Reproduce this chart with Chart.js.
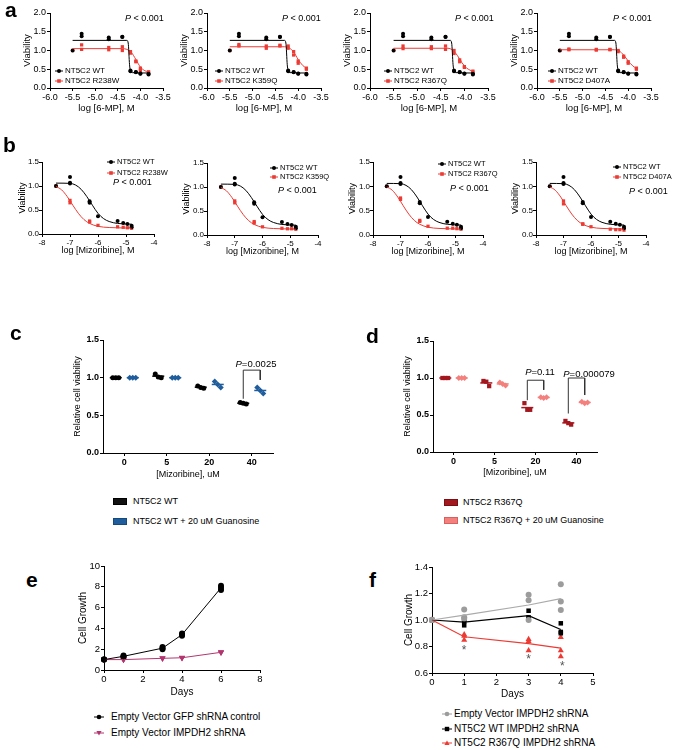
<!DOCTYPE html>
<html>
<head>
<meta charset="utf-8">
<title>NT5C2 viability panels</title>
<script src="https://cdn.jsdelivr.net/npm/chart.js@4.4.1/dist/chart.umd.min.js"></script>
<style>
  html, body { margin: 0; padding: 0; background: #fff; }
  body { position: relative; width: 676px; height: 750px; overflow: hidden; font-family: "Liberation Sans", Arial, sans-serif; }
  canvas, svg { position: absolute; }
  .t { position: absolute; line-height: 1; white-space: nowrap; color: #000; }
  .c { transform: translateX(-50%); }
</style>
</head>
<body>
<script>
// Панель a: log [6-MP], M (повторы в каждой точке)
const aDoses = [-5.5, -5.3, -4.7, -4.4, -4.22, -4.1, -4.0, -3.82];
const aWT    = [[1.0], [1.45, 1.38], [1.35, 1.30], [1.37, 1.36], [0.47, 0.45], [0.43, 0.42], [0.39, 0.38], [0.38, 0.36]];
const aR238W = [[1.0], [1.15, 1.03], [1.08, 1.02], [1.10, 1.00], [0.97, 0.93], [0.72, 0.70], [0.53, 0.47], [0.43, 0.42]];
const aK359Q = [[1.0], [1.16, 1.12], [1.12, 1.06], [1.14, 1.12], [1.12, 1.06], [0.97, 0.88], [0.72, 0.66], [0.53, 0.50]];
const aR367Q = [[1.0], [1.12, 1.05], [1.10, 1.05], [1.12, 1.03], [1.00, 0.92], [0.75, 0.70], [0.57, 0.55], [0.45, 0.42]];
const aD407A = [[1.0], [1.04, 1.02], [1.03, 1.01], [1.03, 1.02], [1.00, 0.97], [0.85, 0.82], [0.70, 0.66], [0.53, 0.50]];
// кривые аппроксимации
const aFitWT    = [[-5.5, 1.27], [-4.3, 1.27], [-4.27, 1.2], [-4.24, 0.62], [-4.22, 0.46], [-4.18, 0.41], [-3.82, 0.40]];
const aFitR238W = [[-5.5, 1.05], [-4.4, 1.05], [-4.3, 1.03], [-4.2, 0.95], [-4.1, 0.76], [-4.0, 0.56], [-3.9, 0.46], [-3.82, 0.43]];
const aFitK359Q = [[-5.5, 1.10], [-4.3, 1.10], [-4.2, 1.07], [-4.1, 0.96], [-4.0, 0.76], [-3.9, 0.60], [-3.82, 0.53]];
const aFitR367Q = [[-5.5, 1.06], [-4.35, 1.06], [-4.25, 1.01], [-4.15, 0.87], [-4.05, 0.67], [-3.95, 0.53], [-3.82, 0.44]];
const aFitD407A = [[-5.5, 1.02], [-4.3, 1.02], [-4.2, 0.99], [-4.1, 0.88], [-4.0, 0.72], [-3.9, 0.59], [-3.82, 0.52]];
const aMutNames = ['NT5C2 R238W', 'NT5C2 K359Q', 'NT5C2 R367Q', 'NT5C2 D407A'];

// Панель b: log [Mizoribine], M
const bDoses = [-7.5, -7.0, -6.3, -6.0, -5.3, -5.1, -4.95, -4.8];
const bWT    = [[1.0], [1.19, 1.07, 1.05], [0.68, 0.65], [0.37], [0.27], [0.23], [0.21], [0.17, 0.14]];
const bR238W = [[1.0], [0.70, 0.65], [0.27, 0.25], [0.18], [0.15], [0.14], [0.13], [0.12]];
const bK359Q = [[1.0], [0.71, 0.67], [0.28, 0.25], [0.17], [0.14], [0.13], [0.13], [0.12]];
const bR367Q = [[1.0], [0.76, 0.73], [0.30, 0.28], [0.18], [0.14], [0.14], [0.13], [0.12]];
const bD407A = [[1.0], [0.70, 0.64], [0.23, 0.22], [0.17], [0.12], [0.11], [0.11], [0.10]];
const bFitWT  = [[-7.5, 1.06], [-7.0, 1.055], [-6.8, 1.02], [-6.6, 0.93], [-6.4, 0.78], [-6.2, 0.60], [-6.0, 0.43], [-5.8, 0.32], [-5.6, 0.26], [-5.3, 0.22], [-4.8, 0.205]];
const bFitMut = [[-7.5, 0.99], [-7.3, 0.92], [-7.1, 0.78], [-6.9, 0.60], [-6.7, 0.43], [-6.5, 0.30], [-6.3, 0.22], [-6.0, 0.16], [-5.6, 0.135], [-5.0, 0.125], [-4.8, 0.12]];

// Панели c и d: [Mizoribine], uM
const cCats = ['0', '5', '20', '40'];
const cWT   = [[1.0, 1.0, 1.0], [1.05, 1.01, 1.0], [0.89, 0.87, 0.86], [0.67, 0.66, 0.65]];
const cGuan = [[1.0, 1.0, 1.0], [1.0, 1.0, 1.0], [0.95, 0.91, 0.87], [0.87, 0.83, 0.79]];
const dMut  = [[1.0, 1.0, 1.0], [0.96, 0.95, 0.89], [0.66, 0.57, 0.57], [0.42, 0.39, 0.37]];
const dGuan = [[1.0, 1.0, 1.0], [0.94, 0.92, 0.90], [0.74, 0.73, 0.74], [0.68, 0.66, 0.67]];
// скобки значимости: [категория, низ слева, верх, низ справа]
const cBrackets = [[3, 0.72, 1.10, 0.97]];
const dBrackets = [[2, 0.70, 0.97, 0.84], [3, 0.52, 1.00, 0.77]];

// Панель e: рост клеток по дням
const eDays = [0, 1, 3, 4, 6];
const eGFP  = [[1.0, 1.0, 1.0], [1.30, 1.40, 1.25], [2.20, 2.00, 2.10], [3.50, 3.30, 3.40], [8.10, 7.70, 7.90]];
const eIMP  = [[1.0, 1.0, 1.0], [1.00, 1.02, 0.98], [1.12, 1.10, 1.15], [1.15, 1.18, 1.20], [1.70, 1.72, 1.68]];

// Панель f
const fDays = [0, 1, 3, 4];
const fEV   = [[1.0, 1.0, 1.0], [1.08, 1.02, 1.01], [1.19, 1.15, 1.00], [1.27, 1.14, 1.075]];
const fWT   = [[1.0, 1.0, 1.0], [1.00, 0.99, 0.96], [1.07, 1.02, 1.01], [0.975, 0.91, 0.90]];
const fMut  = [[1.0, 1.0, 1.0], [0.89, 0.88, 0.85], [0.855, 0.84, 0.77], [0.87, 0.77, 0.725]];
const fStars = [[1, 0.79], [3, 0.725], [4.05, 0.67]];

const FONT = '"Liberation Sans", Arial, sans-serif';
const RED = '#ec3b34', BLUE = '#1f5d9c', DRED = '#a3171f', PINK = '#f3807d', PURPLE = '#b3356f', GRAY = '#9c9c9c';
const OFF = 0.2;              // сдвиг групп внутри категории
const JIT = [-0.07, 0, 0.07]; // разброс повторов

Chart.defaults.font.family = FONT;
Chart.defaults.color = '#000';

const mean = a => a.reduce((s, v) => s + v, 0) / a.length;

function toPoints(xs, reps, off = 0, jit = null) {
    const out = [];
    xs.forEach((x, i) => reps[i].forEach((y, j) => out.push({ x: x + off + (jit ? jit[j % jit.length] : 0), y })));
    return out;
}
function toMeans(xs, reps, off = 0) {
    return xs.map((x, i) => ({ x: x + off, y: mean(reps[i]) }));
}

function dots(points, color, style, r, rot = 0) {
    return { data: points, showLine: false, pointStyle: style, pointRadius: r, pointRotation: rot,
        pointBackgroundColor: color, pointBorderColor: color, pointBorderWidth: 0, clip: false };
}
function meanBar(points, color) {
    return { data: points, showLine: false, pointStyle: 'line', pointRadius: 6,
        pointBorderColor: color, pointBorderWidth: 1.5, clip: false };
}
function curve(pairs, color, w, smooth) {
    return { data: pairs.map(([x, y]) => ({ x, y })), showLine: true, pointRadius: 0,
        borderColor: color, borderWidth: w, tension: smooth ? 0.4 : 0,
        cubicInterpolationMode: smooth ? 'monotone' : 'default', clip: false };
}
function brackets(list) {
    return list.map(([c, yl, yt, yr]) => curve([[c - OFF, yl], [c - OFF, yt], [c + OFF, yt], [c + OFF, yr]], '#333', 1, false));
}

function axisOpts(o, box, horiz) {
    const ax = {
        type: 'linear', min: o.min, max: o.max,
        border: { display: true, color: '#000', width: 1 },
        grid: { drawOnChartArea: false, drawTicks: true, tickLength: 3, color: '#000', lineWidth: 1 },
        ticks: { stepSize: o.step, autoSkip: false, maxRotation: 0, minRotation: 0, padding: o.pad ?? 1, color: '#000',
            font: { size: o.ts, weight: o.bold ? 'bold' : 'normal' }, callback: o.fmt },
        title: { display: true, text: o.title, padding: 0, color: '#000', font: { size: o.fs } },
        afterFit: s => { if (horiz) s.height = box.xH; else s.width = box.yW; }
    };
    if (o.fixed) ax.afterBuildTicks = s => { s.ticks = o.fixed.map(v => ({ value: v })); };
    return ax;
}

// Функция для создания одного графика в заданной области страницы
function makeChart(box, datasets, xo, yo, plugins = []) {
    const cv = document.createElement('canvas');
    const w = box.r - box.l + box.yW + box.padR;
    const h = box.b - box.t + box.padT + box.xH;
    cv.width = w; cv.height = h;
    cv.style.left = (box.l - box.yW) + 'px';
    cv.style.top = (box.t - box.padT) + 'px';
    document.body.appendChild(cv);
    return new Chart(cv, {
        type: 'scatter',
        data: { datasets },
        options: {
            responsive: false, animation: false,
            layout: { padding: { left: 0, bottom: 0, top: box.padT, right: box.padR } },
            plugins: { legend: { display: false }, tooltip: { enabled: false } },
            scales: { x: axisOpts(xo, box, true), y: axisOpts(yo, box, false) }
        },
        plugins
    });
}

// Текст и легенды поверх графиков
function addText(x, y, html, size, opts = {}) {
    const d = document.createElement('div');
    d.className = 't' + (opts.center ? ' c' : '');
    d.style.left = x + 'px';
    d.style.top = (y - size / 2) + 'px';
    d.style.fontSize = size + 'px';
    if (opts.bold) d.style.fontWeight = 'bold';
    d.innerHTML = html;
    document.body.appendChild(d);
}
function letter(x, baseline, ch) {
    const size = 21;
    const d = document.createElement('div');
    d.className = 't';
    d.style.left = x + 'px';
    d.style.top = (baseline - 0.846 * size) + 'px';
    d.style.fontSize = size + 'px';
    d.style.fontWeight = 'bold';
    d.textContent = ch;
    document.body.appendChild(d);
}
function symbol(shape, cx, cy, r, color) {
    if (shape === 'circle') return `<circle cx="${cx}" cy="${cy}" r="${r}" fill="${color}"/>`;
    if (shape === 'rect') return `<rect x="${cx - r}" y="${cy - r}" width="${2 * r}" height="${2 * r}" fill="${color}"/>`;
    if (shape === 'tri') return `<polygon points="${cx},${cy - r} ${cx + r},${cy + r * 0.8} ${cx - r},${cy + r * 0.8}" fill="${color}"/>`;
    if (shape === 'triDown') return `<polygon points="${cx},${cy + r} ${cx + r},${cy - r * 0.8} ${cx - r},${cy - r * 0.8}" fill="${color}"/>`;
    return '';
}
function legendLine(x, y, w, textX, color, shape, r, label, size) {
    const h = 10;
    document.body.insertAdjacentHTML('beforeend',
        `<svg width="${w}" height="${h}" style="left:${x}px;top:${y - h / 2}px"><line x1="0" y1="${h / 2}" x2="${w}" y2="${h / 2}" stroke="${color}" stroke-width="1"/>${symbol(shape, w / 2, h / 2, r, color)}</svg>`);
    addText(textX, y, label, size);
}
function legendBox(x, y, textX, color, edge, label, size) {
    document.body.insertAdjacentHTML('beforeend',
        `<svg width="14" height="7" style="left:${x}px;top:${y - 3.5}px"><rect x="0.5" y="0.5" width="13" height="6" fill="${color}" stroke="${edge}" stroke-width="1"/></svg>`);
    addText(textX, y, label, size);
}
const P = '<i>P</i>';

// ---- Панель a ----
const aBoxes = [
    { l: 50, r: 163, t: 13, b: 88 },
    { l: 207, r: 321, t: 13, b: 88 },
    { l: 370, r: 488, t: 13, b: 88 },
    { l: 537, r: 651, t: 13, b: 88 }
];
const aMut = [aR238W, aK359Q, aR367Q, aD407A];
const aMutFit = [aFitR238W, aFitK359Q, aFitR367Q, aFitD407A];
const aLegX = [55, 215, 384, 548];
const aPX = [125, 282, 455, 613];
aBoxes.forEach((bx, i) => {
    const box = Object.assign({ yW: 28, xH: 26, padT: 8, padR: 10 }, bx);
    makeChart(box, [
        curve(aFitWT, '#000', 1, true),
        curve(aMutFit[i], RED, 1, true),
        dots(toPoints(aDoses, aWT), '#000', 'circle', 2),
        dots(toPoints(aDoses, aMut[i]), RED, 'rect', 2.3)
    ],
    { min: -6, max: -3.5, step: 0.5, ts: 9, fs: 9.5, title: 'log [6-MP], M', fmt: v => v.toFixed(1) },
    { min: 0, max: 2, step: 0.5, ts: 9, fs: 9.5, title: 'Viability', fmt: v => v.toFixed(1) });
    legendLine(aLegX[i], 71, 8, aLegX[i] + 10, '#000', 'circle', 2, 'NT5C2 WT', 8);
    legendLine(aLegX[i], 81, 8, aLegX[i] + 10, RED, 'rect', 1.8, aMutNames[i], 8);
    addText(aPX[i], 18, P + ' &lt; 0.001', 9);
});

// ---- Панель b ----
const bBoxes = [
    { l: 42, r: 154, t: 162, b: 234, yW: 25 },
    { l: 207, r: 318, t: 163, b: 235, yW: 26 },
    { l: 373, r: 483, t: 162, b: 235, yW: 26 },
    { l: 536, r: 646, t: 162, b: 235, yW: 26 }
];
const bMut = [bR238W, bK359Q, bR367Q, bD407A];
const bLeg = [[107, 162, 173], [270, 168, 177], [438, 164, 174], [613, 167, 177]];
const bPpos = [[113, 182], [278, 190], [450, 188], [629, 191]];
bBoxes.forEach((bx, i) => {
    const box = Object.assign({ xH: 22, padT: 8, padR: 8 }, bx);
    makeChart(box, [
        curve(bFitWT, '#000', 1, true),
        curve(bFitMut, RED, 1, true),
        dots(toPoints(bDoses, bWT), '#000', 'circle', 2),
        dots(toPoints(bDoses, bMut[i]), RED, 'rect', 2.3)
    ],
    { min: -8, max: -4, step: 1, ts: 8, fs: 9, title: 'log [Mizoribine], M', fmt: v => String(v) },
    { min: 0, max: 1.5, step: 0.5, ts: 8, fs: 9, pad: 0, title: 'Viability', fmt: v => v.toFixed(1) });
    const [lx, y1, y2] = bLeg[i];
    legendLine(lx, y1, 8, lx + 10, '#000', 'circle', 2, 'NT5C2 WT', 7.5);
    legendLine(lx, y2, 8, lx + 10, RED, 'rect', 1.8, aMutNames[i], 7.5);
    addText(bPpos[i][0], bPpos[i][1], P + ' &lt; 0.001', 9);
});

// ---- Панели c и d ----
const catIdx = cCats.map((_, i) => i);
const catX = { min: -0.5, max: 3.5, fixed: catIdx, ts: 9, bold: true, fs: 9, title: '[Mizoribine], uM', fmt: v => cCats[v] };
const relY = { min: 0, max: 1.5, step: 0.5, ts: 9, bold: true, fs: 9, title: 'Relative cell viability', fmt: v => v.toFixed(1) };

const cBox = { l: 103, r: 273, t: 340, b: 453, yW: 31, xH: 27, padT: 8, padR: 8 };
makeChart(cBox, [
    ...brackets(cBrackets),
    meanBar(toMeans(catIdx, cWT, -OFF), '#000'),
    dots(toPoints(catIdx, cWT, -OFF, JIT), '#000', 'circle', 2.5),
    meanBar(toMeans(catIdx, cGuan, OFF), BLUE),
    dots(toPoints(catIdx, cGuan, OFF, JIT), BLUE, 'rectRot', 3)
], catX, relY);
addText(256, 364, P + '=0.0025', 9.5, { center: true });
legendBox(113, 501, 133, '#111', '#000', 'NT5C2 WT', 9);
legendBox(113, 521, 133, BLUE, '#174a7c', 'NT5C2 WT + 20 uM Guanosine', 9);

const dBox = { l: 433, r: 597, t: 341, b: 452, yW: 31, xH: 26, padT: 8, padR: 8 };
makeChart(dBox, [
    ...brackets(dBrackets),
    meanBar(toMeans(catIdx, dMut, -OFF), DRED),
    dots(toPoints(catIdx, dMut, -OFF, JIT), DRED, 'rect', 3),
    meanBar(toMeans(catIdx, dGuan, OFF), PINK),
    dots(toPoints(catIdx, dGuan, OFF, JIT), PINK, 'rectRot', 3)
], catX, relY);
addText(540, 372, P + '=0.11', 9.5, { center: true });
addText(589, 374, P + '=0.000079', 9.5, { center: true });
legendBox(444, 502, 463, DRED, '#7a0f15', 'NT5C2 R367Q', 9);
legendBox(444, 520, 463, PINK, '#d86060', 'NT5C2 R367Q + 20 uM Guanosine', 9);

// ---- Панель e ----
const eBox = { l: 104, r: 260, t: 566, b: 670, yW: 27, xH: 28, padT: 8, padR: 10 };
makeChart(eBox, [
    curve(eDays.map((d, i) => [d, mean(eGFP[i])]), '#000', 1, false),
    curve(eDays.map((d, i) => [d, mean(eIMP[i])]), PURPLE, 1, false),
    dots(toPoints(eDays, eGFP), '#000', 'circle', 3),
    dots(toPoints(eDays, eIMP), PURPLE, 'triangle', 3.5, 180)
],
{ min: 0, max: 8, step: 2, ts: 9.5, fs: 10, title: 'Days', fmt: v => String(v) },
{ min: 0, max: 10, step: 2, ts: 9.5, fs: 10, title: 'Cell Growth', fmt: v => String(v) });
legendLine(94, 717, 10, 111, '#000', 'circle', 2.3, 'Empty Vector GFP shRNA control', 10);
legendLine(94, 733, 10, 111, PURPLE, 'triDown', 2.6, 'Empty Vector IMPDH2 shRNA', 10);

// ---- Панель f ----
const starPlugin = {
    id: 'stars',
    afterDatasetsDraw(chart) {
        const { ctx, scales: { x, y } } = chart;
        ctx.save();
        ctx.fillStyle = '#555';
        ctx.font = '12px ' + FONT;
        ctx.textAlign = 'center';
        ctx.textBaseline = 'middle';
        fStars.forEach(([sx, sy]) => ctx.fillText('*', x.getPixelForValue(sx), y.getPixelForValue(sy) + 3));
        ctx.restore();
    }
};
const fBox = { l: 432, r: 593, t: 567, b: 673, yW: 29, xH: 27, padT: 8, padR: 10 };
makeChart(fBox, [
    curve(fDays.map((d, i) => [d, mean(fEV[i])]), '#aaaaaa', 1.2, false),
    curve(fDays.map((d, i) => [d, mean(fWT[i])]), '#000', 1.2, false),
    curve(fDays.map((d, i) => [d, mean(fMut[i])]), RED, 1.2, false),
    dots(toPoints(fDays, fEV), GRAY, 'circle', 3),
    dots(toPoints(fDays, fWT), '#000', 'rect', 3.2),
    dots(toPoints(fDays, fMut), RED, 'triangle', 3.5)
],
{ min: 0, max: 5, step: 1, ts: 9.5, fs: 10, title: 'Days', fmt: v => String(v) },
{ min: 0.6, max: 1.4, step: 0.2, ts: 9.5, fs: 10, title: 'Cell Growth', fmt: v => v.toFixed(1) },
[starPlugin]);
legendLine(442, 714, 10, 454, GRAY, 'circle', 2.3, 'Empty Vector IMPDH2 shRNA', 10);
legendLine(442, 729, 10, 454, '#000', 'rect', 2.2, 'NT5C2 WT IMPDH2 shRNA', 10);
legendLine(442, 743, 10, 454, RED, 'tri', 2.6, 'NT5C2 R367Q IMPDH2 shRNA', 10);

// Буквы панелей
letter(5, 17, 'a');
letter(3, 152, 'b');
letter(10, 340, 'c');
letter(366, 343, 'd');
letter(26, 587, 'e');
letter(369, 587, 'f');
</script>
</body>
</html>
